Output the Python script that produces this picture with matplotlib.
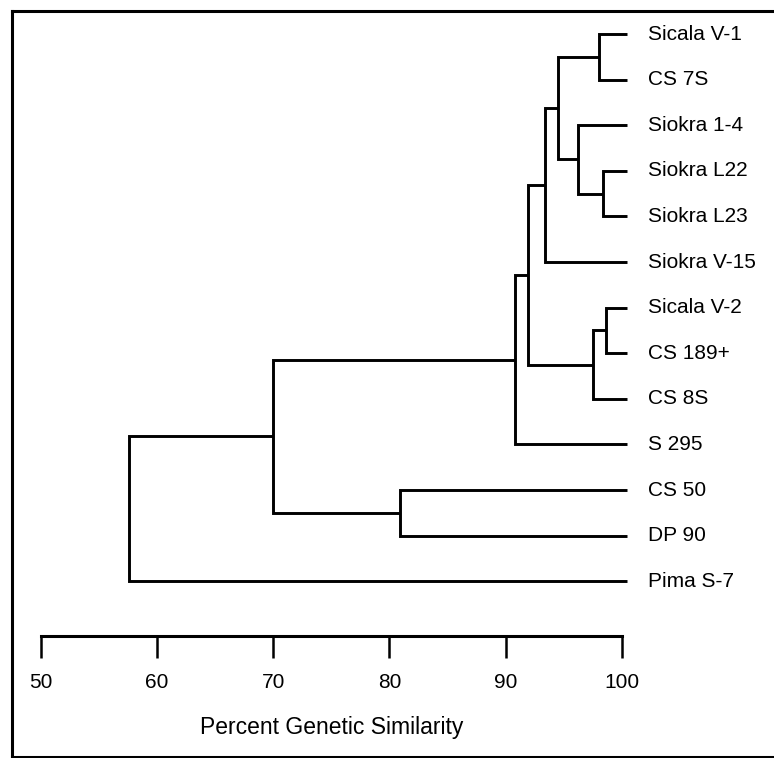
import numpy as np
import matplotlib as mpl
mpl.use('agg')
import matplotlib.pyplot as plt
from matplotlib.lines import Line2D

plt.rcParams['font.family'] = ['Liberation Sans', 'DejaVu Sans']

# leaves from top to bottom
leaves = ['Sicala V-1', 'CS 7S', 'Siokra 1-4', 'Siokra L22', 'Siokra L23',
          'Siokra V-15', 'Sicala V-2', 'CS 189+', 'CS 8S', 'S 295',
          'CS 50', 'DP 90', 'Pima S-7']

# merges: ids 0..12 are leaves, 13.. are clusters in merge order
merge_a = [0, 3, 2, 13, 16, 6, 18, 17, 20, 10, 21, 23]
merge_b = [1, 4, 14, 15, 5, 7, 8, 19, 9, 11, 22, 12]
merge_sim = [98.0, 98.4, 96.2, 94.5, 93.4, 98.6, 97.5, 91.9, 90.8, 80.9, 70.0, 57.6]

ticks = [50, 60, 70, 80, 90, 100]
xlabel = 'Percent Genetic Similarity'

# ---------------------------------------------------------------------------
fig = plt.figure(figsize=(7.74, 7.58), dpi=100)
W, H = 774, 758
px_per_unit = 11.63
x0_px = 40.7
xmin = 50 - x0_px / px_per_unit
xmax = 100 + (W - 622) / px_per_unit

leaf_top, leaf_step = 34, 45.6
axis_px = 636
ytop = -leaf_top / leaf_step
ybot = (axis_px - leaf_top) / leaf_step

ax = fig.add_axes([0, (H - axis_px) / H, 1, axis_px / H])
ax.set_xlim(xmin, xmax)
ax.set_ylim(ybot, ytop)

leaf_end = 100.4
node_x = [leaf_end] * len(leaves)
node_y = list(range(len(leaves)))
lw = 2.1
for a, b, s in zip(merge_a, merge_b, merge_sim):
    ax.plot([node_x[a], s, s, node_x[b]], [node_y[a], node_y[a], node_y[b], node_y[b]],
            color='black', lw=lw, solid_joinstyle='miter', solid_capstyle='butt')
    node_x.append(s)
    node_y.append((node_y[a] + node_y[b]) / 2)

for i, name in enumerate(leaves):
    ax.text(102.2, i, name, fontsize=15, va='center', ha='left')

for side in ['top', 'right', 'left']:
    ax.spines[side].set_visible(False)
ax.spines['bottom'].set_bounds(50, 100)
ax.spines['bottom'].set_linewidth(2.2)
ax.set_yticks([])
ax.set_xticks(ticks)
ax.tick_params(axis='x', direction='out', length=16, width=1.8, pad=11, labelsize=15)
ax.set_xlabel(xlabel, fontsize=16.5)
ax.xaxis.set_label_coords((75 - xmin) / (xmax - xmin), -(716 - axis_px) / axis_px)
ax.patch.set_alpha(0)

# frame around the figure
frame_kw = dict(color='black', lw=2.2, transform=fig.transFigure)
fig.add_artist(Line2D([12.5 / W, 12.5 / W], [1 - 11 / H, 1 - 757 / H], **frame_kw))
fig.add_artist(Line2D([12.5 / W, 1], [1 - 11 / H, 1 - 11 / H], **frame_kw))
fig.add_artist(Line2D([12.5 / W, 1], [1 - 757 / H, 1 - 757 / H], **frame_kw))

plt.savefig('out.png', dpi=100)
